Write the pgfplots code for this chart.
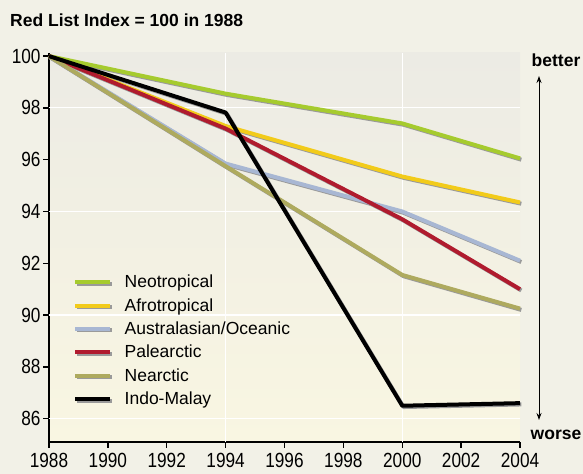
\documentclass[border=0pt]{standalone}
\usepackage{fontspec}
\setmainfont{Liberation Sans}
\newfontfamily\tickfont{Liberation Sans}[FakeStretch=0.84]
\usepackage{pgfplots}
\pgfplotsset{compat=1.18}
\usetikzlibrary{arrows.meta}
\definecolor{outerbg}{HTML}{F2F1E7}
\definecolor{plottop}{HTML}{ECEBE4}
\definecolor{plotbot}{HTML}{F9F6E2}
\definecolor{neo}{HTML}{A6CB2E}
\definecolor{afro}{HTML}{F2CB1A}
\definecolor{austr}{HTML}{A8B7D3}
\definecolor{pale}{HTML}{B01B2E}
\definecolor{nearc}{HTML}{AEAA5E}
\definecolor{shadow}{HTML}{9A9A9A}
\pgfplotstableread{
x neo afro austr pale nearc indo
1988 100 100 100 100 100 100
1994 98.55 97.3 95.85 97.2 95.75 97.82
2000 97.4 95.35 94.0 93.7 91.55 86.5
2004 96.05 94.35 92.1 91.0 90.25 86.6
}\data
\begin{document}
\begin{tikzpicture}[x=1bp,y=1bp]
\path[use as bounding box,fill=outerbg] (-49,-32) rectangle (534,442);
\shade[top color=plottop,bottom color=plotbot] (0,0) rectangle (471,389);
\begin{axis}[
  at={(0,0)}, anchor=south west,
  scale only axis, width=471bp, height=389bp,
  xmin=1988, xmax=2004, ymin=85.1, ymax=100.12,
  axis x line*=bottom, axis y line*=left,
  axis line style={line width=1.4bp, -},
  xtick={1988,1990,...,2004}, ytick={86,88,...,100},
  tick align=outside, major tick length=6bp,
  tick style={line width=1.3bp, black},
  extra x ticks={1994,2000}, extra x tick labels={},
  extra x tick style={grid=major, major tick length=0pt, tick style={draw=none}},
  extra y ticks={86,90,94,98}, extra y tick labels={},
  extra y tick style={grid=major, major tick length=0pt, tick style={draw=none}},
  grid style={white, line width=1.2bp},
  /pgf/number format/assume math mode=true,
  /pgf/number format/1000 sep={},
  xticklabel style={font=\tickfont\fontsize{20.5bp}{20.5bp}\selectfont, yshift=-2bp},
  yticklabel style={font=\tickfont\fontsize{20.5bp}{20.5bp}\selectfont, xshift=1bp},
  clip=false,
  legend style={draw=none, fill=none, at={(21bp,171bp)}, anchor=north west,
    font=\fontsize{17.5bp}{17.5bp}\selectfont, row sep=5.2bp,
    /tikz/every odd column/.append style={column sep=9bp}},
  legend cell align=left,
  legend image code/.code={
    \draw[#1, draw=shadow, line width=4bp] (1.5bp,-1.5bp) -- (36.5bp,-1.5bp);
    \draw[#1, line width=4bp] (0bp,0bp) -- (35bp,0bp);
  },
]
\foreach \s in {neo, afro, austr, pale, nearc, indo}{
  \edef\tmp{\noexpand\addplot[draw=shadow, line width=4bp, xshift=1.3bp, yshift=-1.3bp, forget plot, line join=round] table[x=x,y=\s] {\noexpand\data};}
  \tmp
}
\addplot[neo, line width=4bp, line join=round] table[x=x,y=neo] {\data};
\addlegendentry{Neotropical}
\addplot[afro, line width=4bp, line join=round] table[x=x,y=afro] {\data};
\addlegendentry{Afrotropical}
\addplot[austr, line width=4bp, line join=round] table[x=x,y=austr] {\data};
\addlegendentry{Australasian/Oceanic}
\addplot[pale, line width=4bp, line join=round] table[x=x,y=pale] {\data};
\addlegendentry{Palearctic}
\addplot[nearc, line width=4bp, line join=round] table[x=x,y=nearc] {\data};
\addlegendentry{Nearctic}
\addplot[black, line width=4bp, line join=round] table[x=x,y=indo] {\data};
\addlegendentry{Indo-Malay}
\end{axis}
\node[anchor=base west, font=\bfseries\fontsize{17.5bp}{17.5bp}\selectfont, inner sep=0pt] at (-39,415) {Red List Index = 100 in 1988};
\node[anchor=base, font=\bfseries\fontsize{17.5bp}{17.5bp}\selectfont, inner sep=0pt] at (507,375) {better};
\node[anchor=base, font=\bfseries\fontsize{17.5bp}{17.5bp}\selectfont, inner sep=0pt] at (507,2) {worse};
\draw[line width=0.9bp, -{Stealth[length=7bp,width=5bp]}] (490,200) -- (490,366);
\draw[line width=0.9bp, -{Stealth[length=7bp,width=5bp]}] (490,200) -- (490,22);
\end{tikzpicture}
\end{document}
